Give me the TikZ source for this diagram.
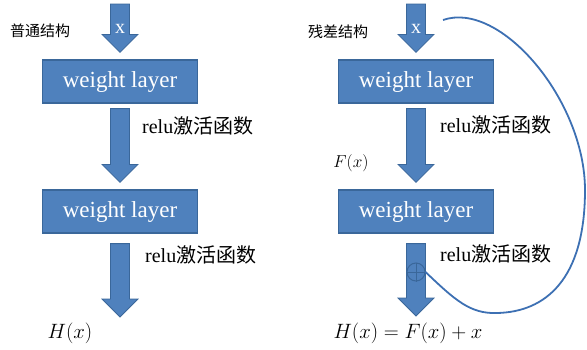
\documentclass[tikz,border=0pt]{standalone}
\usepackage{fontspec}
\setmainfont{Liberation Serif}
\newfontfamily\cjk{Noto Sans CJK SC}
\usetikzlibrary{calc}
\definecolor{blockblue}{HTML}{4F81BD}
\definecolor{blockedge}{HTML}{3A679A}
\definecolor{curveblue}{HTML}{3D70B3}
\tikzset{
  layerbox/.style={draw=blockedge, line width=1.2pt, fill=blockblue, minimum width=155pt, minimum height=43pt, inner sep=0pt, text=white, font=\fontsize{23}{26}\selectfont},
  arrowbody/.style={draw=blockedge, line width=0.8pt, fill=blockblue},
  relulabel/.style={anchor=west, inner sep=0pt, font=\fontsize{20}{24}\selectfont},
  titlelabel/.style={inner sep=0pt, font=\cjk\fontsize{15}{18}\selectfont},
  mathlabel/.style={inner sep=0pt, font=\fontsize{20}{24}\selectfont},
  xlabel/.style={inner sep=0pt, text=white, font=\fontsize{20}{24}\selectfont},
}
\newcommand{\blockarrow}[2]{%
  \path[arrowbody] let \p1=(#1), \p2=(#2) in
    (\x1-9.5pt,\y1) -- (\x1+9.5pt,\y1) -- (\x1+9.5pt,\y2+18pt) -- (\x1+18pt,\y2+18pt)
    -- (\x1,\y2) -- (\x1-18pt,\y2+18pt) -- (\x1-9.5pt,\y2+18pt) -- cycle;}
\begin{document}
\begin{tikzpicture}[x=1pt,y=-1pt]
\useasboundingbox (0,0) rectangle (587,349);
% ---------- left: plain structure ----------
\node[titlelabel] (ltitle) at (40,31) {普通结构};
\coordinate (lin) at (120,4);
\node[layerbox] (lb1) at (120,81.5) {weight layer};
\node[layerbox] (lb2) at (120,211.5) {weight layer};
\coordinate (lend) at (120,317);
\blockarrow{lin}{$(lb1.north)+(0,-7)$}
\node[xlabel] (lx) at (120,29) {x};
\blockarrow{$(lb1.south)+(0,5)$}{$(lb2.north)+(0,-7)$}
\blockarrow{$(lb2.south)+(0,10)$}{lend}
\node[relulabel] (lr1) at (142,126) {relu{\cjk 激活函数}};
\node[relulabel] (lr2) at (145,255) {relu{\cjk 激活函数}};
\node[mathlabel] (lh) at (70,333) {$H(x)$};
% ---------- right: residual structure ----------
\node[titlelabel] (rtitle) at (338,32) {残差结构};
\coordinate (rin) at (416,4);
\node[layerbox] (rb1) at (416,81.5) {weight layer};
\node[layerbox] (rb2) at (416,211.5) {weight layer};
\coordinate (rend) at (416,316);
\blockarrow{rin}{$(rb1.north)+(0,-7)$}
\node[xlabel] (rx) at (416,29) {x};
\blockarrow{$(rb1.south)+(0,5)$}{$(rb2.north)+(0,-7)$}
\blockarrow{$(rb2.south)+(0,10)$}{rend}
\node[circle, draw=blockedge, line width=1pt, fill=blockblue, minimum size=18pt, inner sep=0pt] (plus) at (416,272) {};
\draw[blockedge, line width=1pt] (plus.north) -- (plus.south) (plus.west) -- (plus.east);
\node[relulabel] (rr1) at (440,125) {relu{\cjk 激活函数}};
\node[relulabel] (rr2) at (440,254) {relu{\cjk 激活函数}};
\node[mathlabel, font=\fontsize{18}{22}\selectfont] (rf) at (351,163) {$F(x)$};
\node[mathlabel] (rh) at (408,333) {$H(x) = F(x) + x$};
\coordinate (rskip) at (443,20);
\draw[curveblue, line width=1.8pt]
  (plus.east) .. controls (455,300) and (470,314) .. (497,313)
  .. controls (545,312) and (585,280) .. (585,190)
  .. controls (585,100) and (500,0) .. (rskip);
\end{tikzpicture}
\end{document}
